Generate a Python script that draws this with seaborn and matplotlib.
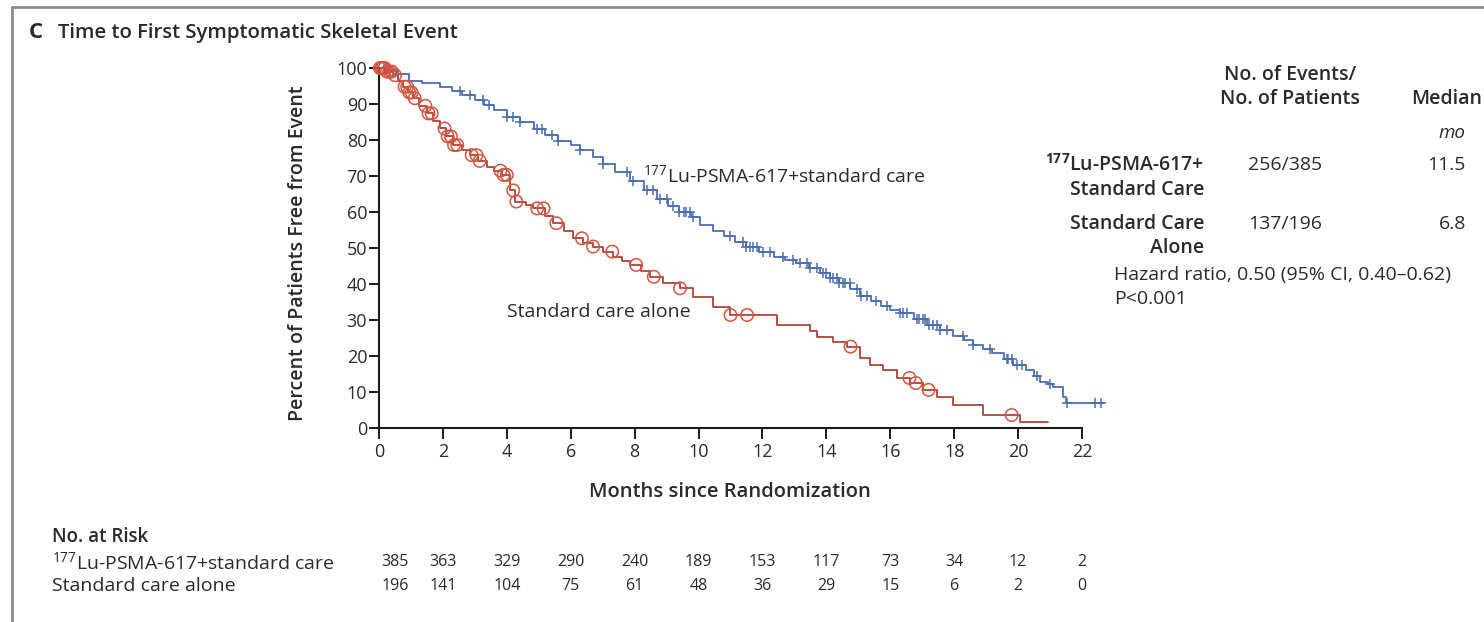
import numpy as np
import pandas as pd
import matplotlib
matplotlib.use("Agg")
import matplotlib.pyplot as plt
import matplotlib.transforms as mtransforms
from matplotlib import font_manager
from matplotlib.lines import Line2D
import seaborn as sns

# Kaplan-Meier steps: months since randomization, percent free from event
lu_time = [0, 0.25, 0.55, 0.95, 1.35, 1.9, 2.3, 2.6, 3.0, 3.3, 3.6, 4.0, 4.4, 4.85, 5.2,
           5.6, 6.0, 6.3, 6.7, 7.0, 7.4, 7.85, 8.3, 8.7, 9.05, 9.4, 9.75, 10.05, 10.45, 10.8,
           11.15, 11.5, 11.9, 12.35, 12.7, 13.05, 13.45, 13.8, 14.1, 14.4, 14.75, 15.05, 15.4,
           15.7, 16.0, 16.3, 16.75, 17.15, 17.55, 17.95, 18.3, 18.6, 18.9, 19.2, 19.55, 19.85,
           20.25, 20.5, 20.7, 20.95, 21.1, 21.4, 21.5, 22.7]
lu_surv = [100, 99.2, 98.2, 96.5, 95.8, 94.8, 93.6, 92.5, 91.2, 89.8, 88.2, 86.5, 85.0, 83.0, 81.5,
           79.6, 78.5, 77.3, 75.3, 73.2, 71.0, 68.5, 66.0, 63.5, 61.8, 60.0, 58.6, 56.5, 54.8, 53.2,
           51.6, 50.3, 49.0, 47.6, 46.7, 45.7, 44.4, 43.0, 41.7, 40.4, 38.5, 36.7, 35.2,
           33.8, 32.8, 31.9, 30.3, 28.7, 27.3, 25.6, 24.4, 23.0, 21.9, 20.9, 19.1, 17.6,
           16.1, 14.5, 12.9, 12.1, 11.5, 8.7, 6.9, 6.9]

sc_time = [0, 0.2, 0.45, 0.6, 0.76, 0.9, 1.07, 1.25, 1.49, 1.7, 1.9, 2.1, 2.33, 2.6, 2.85,
           3.1, 3.37, 3.6, 3.84, 4.1, 4.26, 4.6, 4.83, 5.2, 5.45, 5.8, 6.08, 6.4, 6.7, 7.0,
           7.33, 7.6, 7.85, 8.2, 8.48, 8.9, 9.42, 9.83, 10.45, 10.99, 12.45, 13.49, 13.7, 14.22,
           14.64, 15.05, 15.37, 15.78, 16.2, 16.62, 17.04, 17.46, 17.97, 18.91, 20.06, 20.95]
sc_surv = [100, 99, 98, 96.5, 94.8, 93.2, 91.6, 89.5, 87.4, 85.3, 83.2, 81, 78.6, 77.2, 75.8,
           74.2, 72.6, 71.5, 70.3, 66.0, 62.9, 62.0, 61.0, 59.0, 56.9, 54.8, 52.7, 51.5, 50.4, 49.0,
           47.6, 46.5, 45.3, 43.6, 42.0, 40.4, 38.8, 36.5, 33.7, 31.4, 28.6, 27.0, 25.4, 24.0,
           22.6, 19.4, 17.5, 16.1, 13.9, 12.5, 10.6, 8.7, 6.4, 3.6, 1.8, 1.8]

# censoring times (months)
lu_censored = [0.15, 0.35, 0.6, 2.53, 2.85, 3.27, 3.45, 4.0, 4.2, 4.4, 4.93, 5.1, 5.4, 5.6, 6.3,
               7.0, 7.75, 7.96, 8.38, 8.58, 8.79, 9.0, 9.2, 9.4, 9.53, 9.6, 9.73, 9.84, 10.98,
               11.4, 11.5, 11.61, 11.7, 11.82, 12.03, 12.24, 12.65, 12.97, 13.18, 13.39, 13.5,
               13.7, 13.91, 14.0, 14.12, 14.2, 14.32, 14.4, 14.53, 14.6, 14.74, 14.95, 15.1,
               15.26, 15.57, 15.89, 16.3, 16.4, 16.51, 16.83, 16.9, 17.04, 17.1, 17.2, 17.35,
               17.45, 17.56, 17.77, 18.29, 18.6, 19.12, 19.65, 19.7, 19.8, 19.96, 20.11, 20.58,
               21.0, 21.52, 22.41, 22.59]
sc_censored = [0.03, 0.08, 0.12, 0.18, 0.25, 0.32, 0.4, 0.5, 0.8, 0.88, 0.95, 1.02, 1.12, 1.45,
               1.55, 1.65, 2.05, 2.15, 2.25, 2.35, 2.45, 2.9, 3.05, 3.15, 3.8, 3.9, 4.0, 4.2,
               4.3, 4.95, 5.15, 5.55, 6.35, 6.7, 7.3, 8.05, 8.6, 9.42, 11.0, 11.52, 14.76, 16.6,
               16.8, 17.2, 19.8]

x_ticks = list(range(0, 23, 2))
y_ticks = list(range(0, 101, 10))
risk_lu = [385, 363, 329, 290, 240, 189, 153, 117, 73, 34, 12, 2]
risk_sc = [196, 141, 104, 75, 61, 48, 36, 29, 15, 6, 2, 0]

arm_lu = r"$^{\mathrm{177}}$Lu-PSMA-617+standard care"
arm_sc = "Standard care alone"

BLUE = "#4a6db3"
RED = "#ab4438"
RED_MARK = "#d5553f"
TEXT = "#2a2a2a"

sns.set_theme(style="ticks")
plt.rcParams["font.family"] = ["Open Sans", "DejaVu Sans"]
plt.rcParams["mathtext.fontset"] = "custom"
plt.rcParams["mathtext.rm"] = "Open Sans"
plt.rcParams["mathtext.it"] = "Open Sans:italic"
plt.rcParams["mathtext.bf"] = "Open Sans:bold"

# condensed face for the at-risk counts, when one is installed
installed = {f.name for f in font_manager.fontManager.ttflist}
narrow = next((name for name in ("Liberation Sans Narrow", "DejaVu Sans Condensed")
               if name in installed), None)
risk_font = dict(family=narrow, fontsize=13) if narrow else dict(fontsize=11.5)

W, H = 1484, 622
fig = plt.figure(figsize=(W / 100, H / 100), dpi=100)
fig.patch.set_facecolor("white")


def fx(px):
    return px / W


def fy(py):
    return 1 - py / H


ax = fig.add_axes([fx(379), fy(428), 728.5 / W, 360 / H])

curves = pd.concat([
    pd.DataFrame({"month": lu_time, "pct": lu_surv, "arm": "lu"}),
    pd.DataFrame({"month": sc_time, "pct": sc_surv, "arm": "sc"}),
])
sns.lineplot(data=curves, x="month", y="pct", hue="arm", hue_order=["lu", "sc"],
             palette={"lu": BLUE, "sc": RED}, drawstyle="steps-post", estimator=None,
             sort=False, lw=1.3, legend=False, clip_on=False, ax=ax)


def level_at(times, surv, when):
    idx = np.searchsorted(np.asarray(times), np.asarray(when), side="right") - 1
    return np.asarray(surv)[idx]


ax.scatter(lu_censored, level_at(lu_time, lu_surv, lu_censored), marker="+", s=60,
           c=BLUE, linewidths=1.1, clip_on=False, zorder=3)
ax.scatter(sc_censored, level_at(sc_time, sc_surv, sc_censored), marker="o", s=80,
           facecolors="none", edgecolors=RED_MARK, linewidths=1.1, clip_on=False, zorder=4)

ax.set_xlim(0, 22.8)
ax.set_ylim(0, 100)
ax.set_xticks(x_ticks)
ax.set_yticks(y_ticks)
sns.despine(ax=ax)
ax.spines["bottom"].set_bounds(0, 22)
for side in ("left", "bottom"):
    ax.spines[side].set_linewidth(1.5)
    ax.spines[side].set_color("#1a1a1a")
ax.tick_params(axis="both", length=7, width=1.4, color="#1a1a1a", labelsize=13,
               labelcolor=TEXT, pad=1.5)
ax.tick_params(axis="x", length=8, pad=3)

ax.set_ylabel("Percent of Patients Free from Event", fontsize=14, fontweight="semibold",
              color=TEXT)
ax.yaxis.set_label_coords((298 - 379) / 728.5, (428 - 253) / 360)
ax.yaxis.label.set_va("center")
ax.set_xlabel("Months since Randomization", fontsize=14.5, fontweight="semibold", color=TEXT)
ax.xaxis.set_label_coords((730 - 379) / 728.5, (428 - 492) / 360)
ax.xaxis.label.set_va("center")

# curve labels
ax.text(8.26, 70.3, arm_lu, fontsize=14, color=TEXT, va="center", ha="left")
ax.text(4.0, 32.2, arm_sc, fontsize=14, color=TEXT, va="center", ha="left")

# panel title
fig.text(fx(29), fy(33), "C", fontsize=16, fontweight="bold", color=TEXT, va="center")
fig.text(fx(58), fy(33), "Time to First Symptomatic Skeletal Event", fontsize=14.7,
         fontweight="semibold", color=TEXT, va="center")

# summary table
TB = 14
fig.text(fx(1290), fy(75), "No. of Events/", fontsize=TB, fontweight="semibold",
         color=TEXT, ha="center", va="center")
fig.text(fx(1290), fy(99), "No. of Patients", fontsize=TB, fontweight="semibold",
         color=TEXT, ha="center", va="center")
fig.text(fx(1482), fy(99), "Median", fontsize=TB, fontweight="semibold",
         color=TEXT, ha="right", va="center")
fig.text(fx(1465), fy(133), "mo", fontsize=TB - 0.5, style="italic", color=TEXT,
         ha="right", va="center")
fig.text(fx(1204), fy(165), r"$^{\mathbf{177}}$Lu-PSMA-617+", fontsize=TB,
         fontweight="semibold", color=TEXT, ha="right", va="center")
fig.text(fx(1204), fy(190), "Standard Care", fontsize=TB, fontweight="semibold",
         color=TEXT, ha="right", va="center")
fig.text(fx(1204), fy(224), "Standard Care", fontsize=TB, fontweight="semibold",
         color=TEXT, ha="right", va="center")
fig.text(fx(1204), fy(248), "Alone", fontsize=TB, fontweight="semibold",
         color=TEXT, ha="right", va="center")
fig.text(fx(1285), fy(165), "256/385", fontsize=TB, color=TEXT, ha="center", va="center")
fig.text(fx(1285), fy(224), "137/196", fontsize=TB, color=TEXT, ha="center", va="center")
fig.text(fx(1466), fy(165), "11.5", fontsize=TB, color=TEXT, ha="right", va="center")
fig.text(fx(1466), fy(224), "6.8", fontsize=TB, color=TEXT, ha="right", va="center")
fig.text(fx(1114), fy(275), "Hazard ratio, 0.50 (95% CI, 0.40\u20130.62)", fontsize=TB,
         color=TEXT, ha="left", va="center")
fig.text(fx(1114), fy(299), "P<0.001", fontsize=TB, color=TEXT, ha="left", va="center")

# number at risk
risk_tf = mtransforms.blended_transform_factory(ax.transData, fig.transFigure)
fig.text(fx(52), fy(537), "No. at Risk", fontsize=13.5, fontweight="semibold",
         color=TEXT, ha="left", va="center")
for row_y, label, counts in ((562, arm_lu, risk_lu), (586, arm_sc, risk_sc)):
    fig.text(fx(52), fy(row_y), label, fontsize=14, color=TEXT, ha="left", va="center")
    for i, (month, n) in enumerate(zip(x_ticks, counts)):
        ax.text(month + (0.08 if i == 0 else 0), fy(row_y), str(n), transform=risk_tf,
                color=TEXT, ha="left" if i == 0 else "center", va="center",
                clip_on=False, **risk_font)

# frame rules
fig.add_artist(Line2D([fx(12), 1], [fy(7), fy(7)], color="#8c8c8c", lw=2))
fig.add_artist(Line2D([fx(12), fx(12)], [fy(7), 0], color="#8c8c8c", lw=2))

fig.savefig("out.png", dpi=100, facecolor="white")
